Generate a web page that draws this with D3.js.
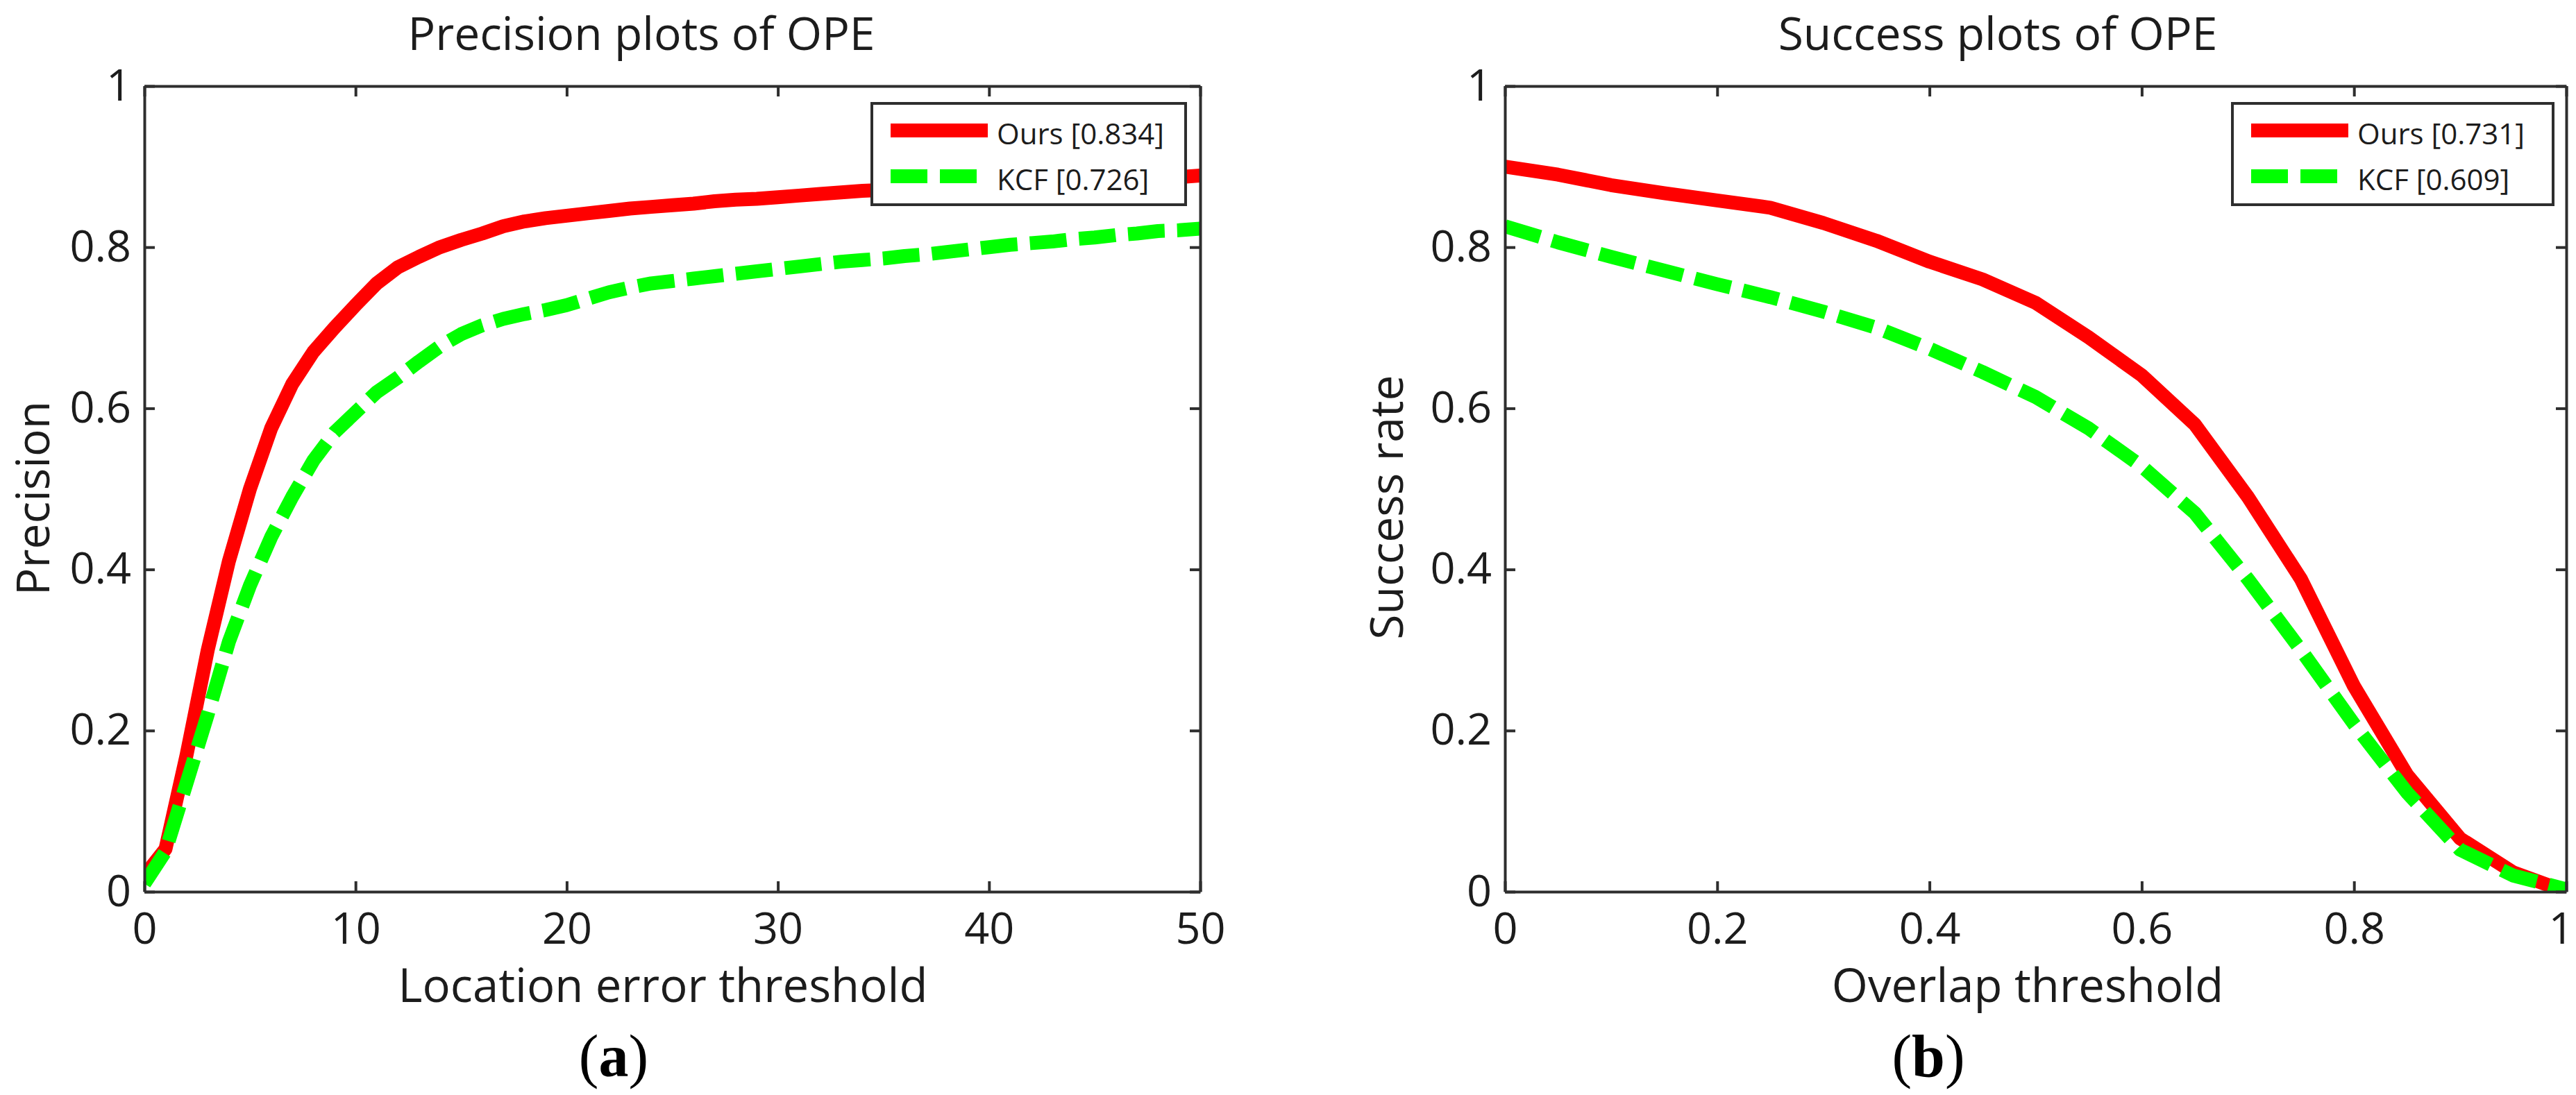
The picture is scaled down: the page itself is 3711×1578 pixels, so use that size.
<!DOCTYPE html>
<html>
<head>
<meta charset="utf-8">
<script src="https://cdn.jsdelivr.net/npm/d3@7"></script>
<style>
  body { margin: 0; background: #fff; }
  text { font-family: "Open Sans", sans-serif; fill: #1c1c1c; }
</style>
</head>
<body>
<script>
// (a) precision plot: location error threshold in pixels
const precisionThresholds = [0,1,2,3,4,5,6,7,8,9,10,11,12,13,14,15,16,17,18,19,20,
  21,22,23,24,25,26,27,28,29,30,31,32,33,34,35,36,37,38,39,40,
  41,42,43,44,45,46,47,48,49,50];
const oursPrecision = [0.02,0.053,0.17,0.30,0.41,0.50,0.575,0.63,0.67,0.70,0.728,
  0.755,0.775,0.788,0.80,0.809,0.817,0.826,0.832,0.836,0.839,
  0.842,0.845,0.848,0.85,0.852,0.854,0.857,0.859,0.86,0.862,
  0.864,0.866,0.868,0.87,0.871,0.872,0.873,0.874,0.875,0.876,
  0.877,0.878,0.879,0.88,0.882,0.883,0.884,0.886,0.887,0.889];
const kcfPrecision = [0.01,0.05,0.135,0.22,0.31,0.38,0.44,0.49,0.535,0.57,0.595,
  0.62,0.638,0.658,0.677,0.692,0.703,0.711,0.717,0.722,0.728,
  0.736,0.744,0.75,0.755,0.758,0.761,0.764,0.767,0.77,0.773,
  0.776,0.779,0.782,0.784,0.786,0.789,0.791,0.794,0.797,0.80,
  0.803,0.805,0.807,0.81,0.812,0.815,0.817,0.82,0.821,0.823];

// (b) success plot: overlap threshold
const successThresholds = [0,0.05,0.1,0.15,0.2,0.25,0.3,0.35,0.4,0.45,0.5,
  0.55,0.6,0.65,0.7,0.75,0.8,0.85,0.9,0.95,1];
const oursSuccess = [0.90,0.89,0.877,0.867,0.858,0.849,0.83,0.808,0.782,0.76,0.731,
  0.688,0.641,0.58,0.49,0.388,0.255,0.145,0.066,0.024,0.0];
const kcfSuccess = [0.826,0.806,0.788,0.771,0.754,0.738,0.72,0.70,0.674,0.645,0.614,
  0.575,0.528,0.47,0.388,0.30,0.208,0.123,0.052,0.02,0.003];

const precisionTicks = [0,10,20,30,40,50];
const overlapTicks = [0,0.2,0.4,0.6,0.8,1];
const rateTicks = [0,0.2,0.4,0.6,0.8,1];

const trackers = ["Ours", "KCF"];
const precisionScores = ["0.834", "0.726"];
const successScores = ["0.731", "0.609"];

const W = 3711, H = 1578;
const axisColor = "#2e2e2e";

const svg = d3.select("body").append("svg")
  .attr("width", W)
  .attr("height", H)
  .style("display", "block");

svg.append("rect").attr("width", W).attr("height", H).attr("fill", "#fff");

function drawPanel(p) {
  const x = d3.scaleLinear().domain(p.xDomain).range(p.xRange);
  const y = d3.scaleLinear().domain([0, 1]).range([1285, 124]);

  const g = svg.append("g");

  // clip lines to the axes box, like matlab does
  g.append("clipPath").attr("id", p.id + "-clip")
    .append("rect")
    .attr("x", x.range()[0]).attr("y", y(1))
    .attr("width", x.range()[1] - x.range()[0])
    .attr("height", y(0) - y(1));

  const lines = g.append("g").attr("clip-path", `url(#${p.id}-clip)`);

  const series = [
    { values: p.ours, color: "#ff0000", dash: null },
    { values: p.kcf, color: "#00ff00", dash: "53 18" }
  ];

  series.forEach(s => {
    const line = d3.line()
      .x((d, i) => x(p.thresholds[i]))
      .y(d => y(d));
    lines.append("path")
      .datum(s.values)
      .attr("d", line)
      .attr("fill", "none")
      .attr("stroke", s.color)
      .attr("stroke-width", 20)
      .attr("stroke-linejoin", "round")
      .attr("stroke-dasharray", s.dash);
  });

  // axes: ticks point inwards on all four sides
  const styleAxis = sel => {
    sel.select(".domain").attr("stroke", axisColor).attr("stroke-width", 4);
    sel.selectAll(".tick line").attr("stroke", axisColor).attr("stroke-width", 4);
    sel.attr("font-size", 63).attr("font-family", null);
    sel.selectAll(".tick text").attr("fill", "#1c1c1c");
  };

  const bottom = g.append("g")
    .attr("transform", `translate(0,${y(0)})`)
    .call(d3.axisBottom(x).tickValues(p.xTicks).tickFormat(d => String(d))
      .tickSizeInner(-15).tickSizeOuter(0).tickPadding(30))
    .call(styleAxis);
  // keep the last label inside the page edge
  if (p.lastTickDx) {
    bottom.selectAll(".tick text").filter((d, i, n) => i === n.length - 1)
      .attr("dx", p.lastTickDx);
  }

  g.append("g")
    .attr("transform", `translate(0,${y(1)})`)
    .call(d3.axisTop(x).tickValues(p.xTicks).tickFormat("")
      .tickSizeInner(-15).tickSizeOuter(0))
    .call(styleAxis);

  g.append("g")
    .attr("transform", `translate(${x.range()[0]},0)`)
    .call(d3.axisLeft(y).tickValues(rateTicks).tickFormat(d => String(d))
      .tickSizeInner(-15).tickSizeOuter(0).tickPadding(19))
    .call(styleAxis);

  g.append("g")
    .attr("transform", `translate(${x.range()[1]},0)`)
    .call(d3.axisRight(y).tickValues(rateTicks).tickFormat("")
      .tickSizeInner(-15).tickSizeOuter(0))
    .call(styleAxis);

  // title and axis labels
  g.append("text")
    .attr("x", p.titleX).attr("y", 72)
    .attr("text-anchor", "middle")
    .attr("font-size", 66)
    .text(p.title);

  g.append("text")
    .attr("x", p.xLabelX).attr("y", 1444)
    .attr("text-anchor", "middle")
    .attr("font-size", 67)
    .text(p.xLabel);

  g.append("text")
    .attr("transform", `translate(${p.yLabelX},${p.yLabelY}) rotate(-90)`)
    .attr("text-anchor", "middle")
    .attr("font-size", 66)
    .text(p.yLabel);

  // panel letter, serif with bold letter
  const cap = g.append("text")
    .attr("x", p.capX).attr("y", 1551)
    .attr("text-anchor", "middle")
    .attr("font-size", 86)
    .style("font-family", "'Liberation Serif', serif")
    .style("fill", "#000");
  cap.append("tspan").text("(");
  cap.append("tspan").attr("font-weight", "bold").text(p.letter);
  cap.append("tspan").text(")");

  // legend
  const lg = g.append("g").attr("transform", `translate(${p.legendX},149)`);
  lg.append("rect")
    .attr("width", p.legendW).attr("height", 146)
    .attr("fill", "#fff")
    .attr("stroke", axisColor).attr("stroke-width", 4);

  trackers.forEach((name, i) => {
    const ly = 39 + i * 66;
    lg.append("line")
      .attr("x1", 27).attr("x2", 167)
      .attr("y1", ly).attr("y2", ly)
      .attr("stroke", series[i].color)
      .attr("stroke-width", 20)
      .attr("stroke-dasharray", series[i].dash);
    lg.append("text")
      .attr("x", 180).attr("y", ly + 20)
      .attr("font-size", 42)
      .text(`${name} [${p.scores[i]}]`);
  });
}

drawPanel({
  id: "prec",
  xDomain: [0, 50], xRange: [208, 1729],
  xTicks: precisionTicks,
  thresholds: precisionThresholds,
  ours: oursPrecision, kcf: kcfPrecision,
  scores: precisionScores,
  title: "Precision plots of OPE",
  xLabel: "Location error threshold",
  yLabel: "Precision",
  titleX: 924, xLabelX: 955,
  yLabelX: 71, yLabelY: 718,
  capX: 884, letter: "a",
  legendX: 1256, legendW: 452
});

drawPanel({
  id: "succ",
  xDomain: [0, 1], xRange: [2168, 3697],
  xTicks: overlapTicks,
  thresholds: successThresholds,
  ours: oursSuccess, kcf: kcfSuccess,
  scores: successScores,
  title: "Success plots of OPE",
  xLabel: "Overlap threshold",
  yLabel: "Success rate",
  titleX: 2878, xLabelX: 2921,
  yLabelX: 2021, yLabelY: 731,
  capX: 2778, letter: "b",
  legendX: 3216, legendW: 462,
  lastTickDx: -8
});
</script>
</body>
</html>
